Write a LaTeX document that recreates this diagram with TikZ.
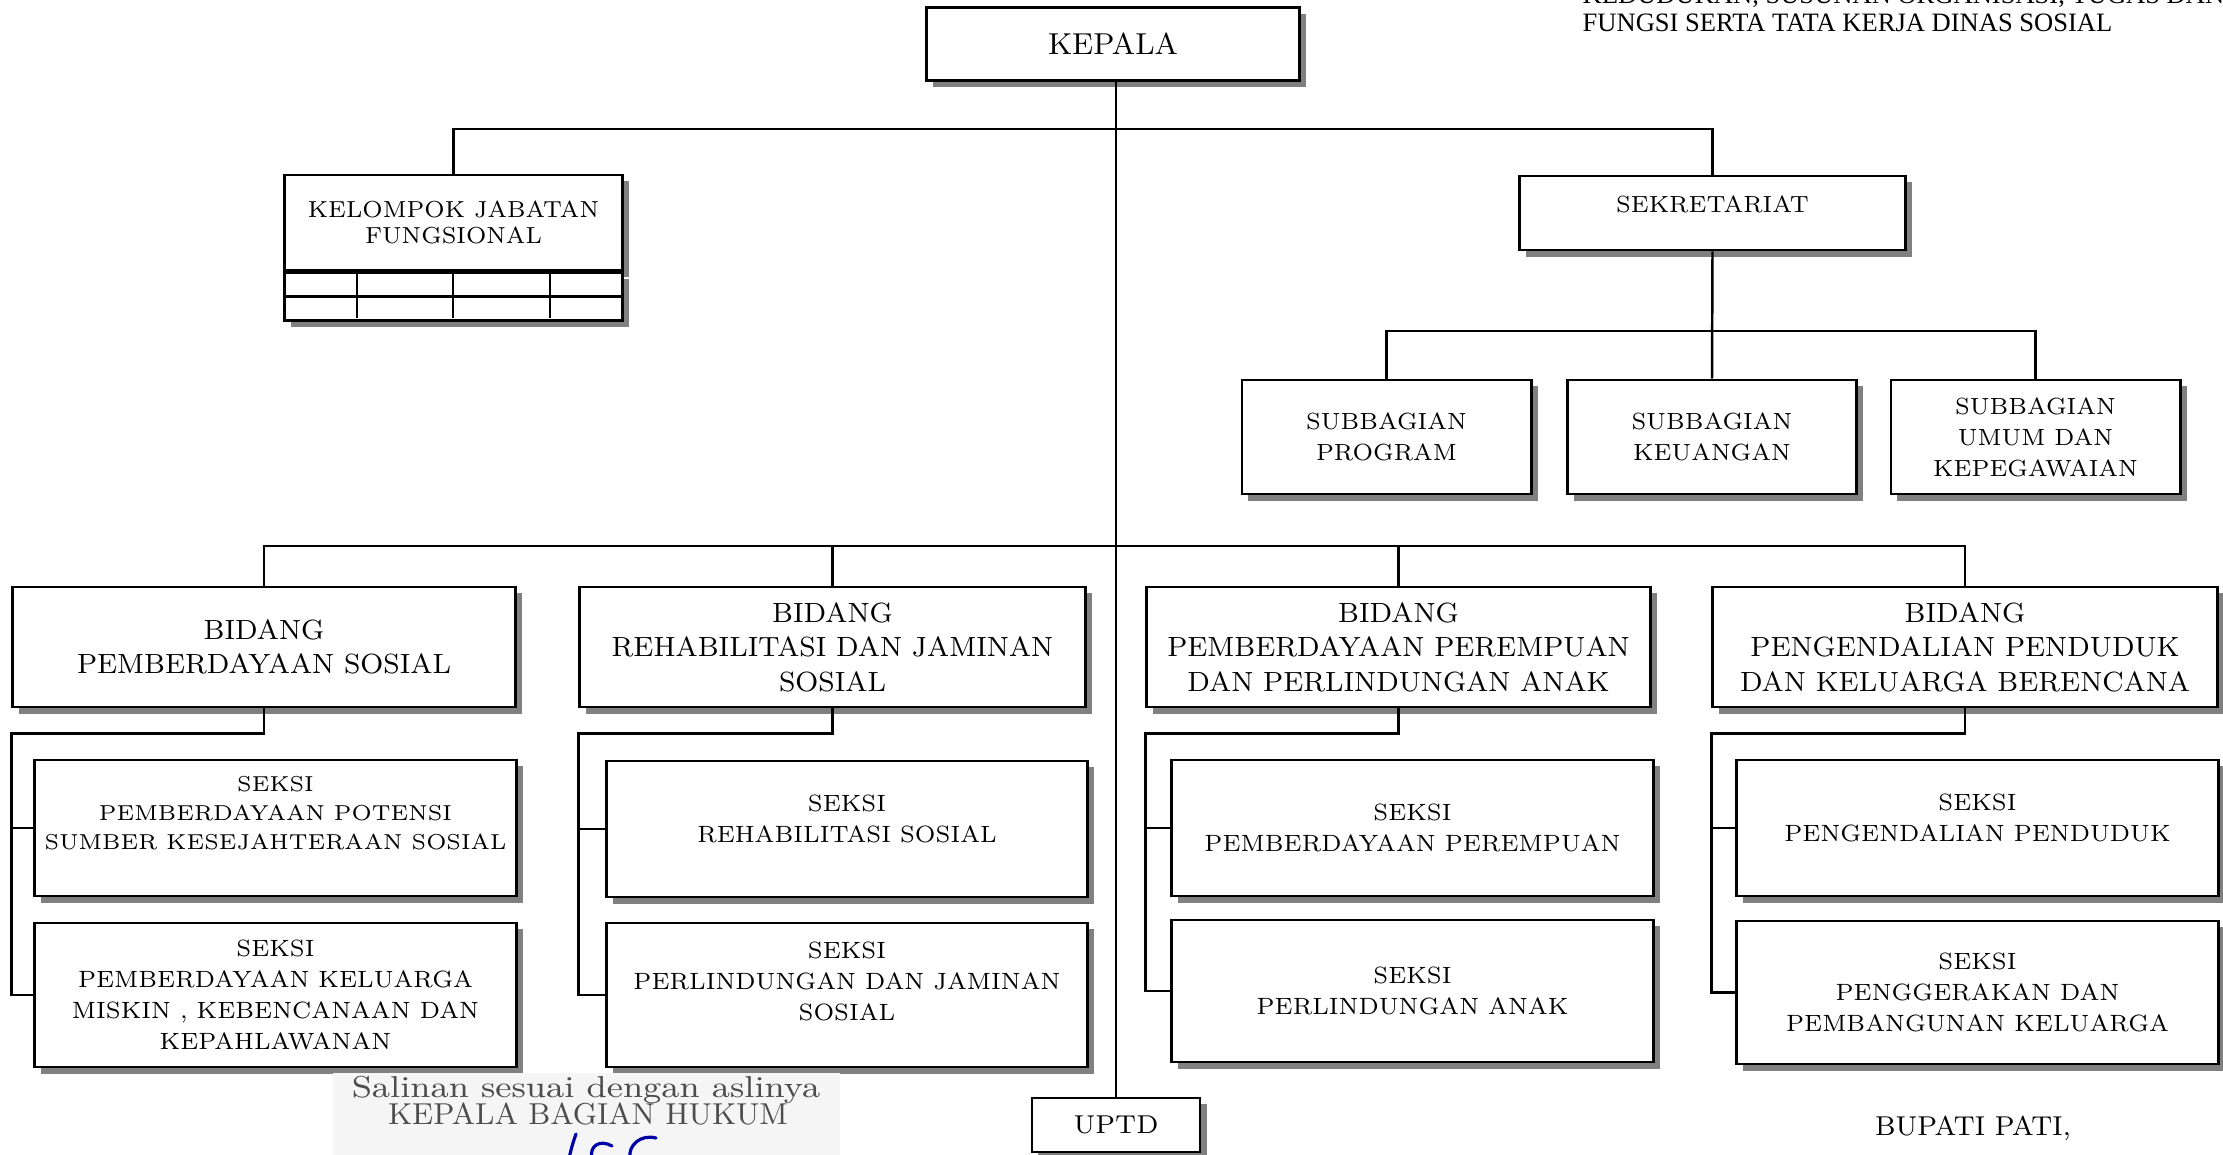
\documentclass[tikz,border=0pt]{standalone}
\usepackage{fontspec}
\usepackage{graphicx}
\newfontfamily\hdrfont{Liberation Serif}
\usetikzlibrary{positioning, shadows}

\tikzset{
  orgbox/.style={draw, rectangle, line width=0.8pt, fill=white, inner sep=0pt, align=center,
    drop shadow={shadow xshift=0.065cm, shadow yshift=-0.065cm, opacity=1, fill=black!50}},
  bidbox/.style={orgbox, minimum height=1.2cm, font=\fontsize{7.9}{9.8}\selectfont},
  seksibox/.style={orgbox, font=\fontsize{6.7}{8.8}\selectfont},
  subbox/.style={orgbox, minimum width=2.89cm, minimum height=1.14cm, font=\fontsize{6.65}{8.8}\selectfont},
  lift/.style={text depth=#1},
  link/.style={line width=0.7pt},
  sign/.style={draw=blue!65!black, line width=0.9pt, line cap=round},
}

\begin{document}
\begin{tikzpicture}[x=0.01cm, y=-0.01cm]
 \useasboundingbox (0,0) rectangle (2223,1155);
 \clip (0,0) rectangle (2223,1155);
 \fill[white] (0,0) rectangle (2223,1155);

 % header text, top right
 \node[font=\hdrfont\fontsize{7.55}{9}\selectfont, anchor=base west, inner sep=0pt] (hdr1) at (1582,4) {KEDUDUKAN, SUSUNAN ORGANISASI, TUGAS DAN};
 \node[font=\hdrfont\fontsize{7.55}{9}\selectfont, anchor=base west, inner sep=0pt] (hdr2) at (1582,32) {FUNGSI SERTA TATA KERJA DINAS SOSIAL};

 % top
 \node[orgbox, minimum width=3.72cm, minimum height=0.73cm, font=\fontsize{8.6}{10}\selectfont] (kepala) at (1113,44) {KEPALA};
 \node[orgbox, minimum width=3.37cm, minimum height=0.95cm, font=\fontsize{6.6}{7.6}\selectfont] (kjf) at (453.5,222.5) {KELOMPOK JABATAN\\FUNGSIONAL};
 \node[orgbox, minimum width=3.37cm, minimum height=0.48cm, anchor=north] (kjfgrid) at (kjf.south) {};
 \draw[line width=0.8pt] (kjfgrid.west) -- (kjfgrid.east);
 \foreach \gx in {357,453,550}
   \draw[line width=0.8pt] (\gx,270) -- (\gx,318);
 \node[orgbox, minimum width=3.85cm, minimum height=0.74cm, font=\fontsize{6.65}{8.8}\selectfont, lift=0.18cm] (sekr) at (1712.5,213) {SEKRETARIAT};

 % subbagian
 \node[subbox] (sb1) at (1386.5,437) {SUBBAGIAN\\PROGRAM};
 \node[subbox] (sb2) at (1712,437) {SUBBAGIAN\\KEUANGAN};
 \node[subbox] (sb3) at (2035.5,437) {SUBBAGIAN\\UMUM DAN\\KEPEGAWAIAN};

 % bidang
 \node[bidbox, minimum width=5.02cm] (bd1) at (264,647) {BIDANG\\PEMBERDAYAAN SOSIAL};
 \node[bidbox, minimum width=5.05cm] (bd2) at (832.5,647) {BIDANG\\REHABILITASI DAN JAMINAN\\SOSIAL};
 \node[bidbox, minimum width=5.03cm] (bd3) at (1398.5,647) {BIDANG\\PEMBERDAYAAN PEREMPUAN\\DAN PERLINDUNGAN ANAK};
 \node[bidbox, minimum width=5.04cm] (bd4) at (1965,647) {BIDANG\\PENGENDALIAN PENDUDUK\\DAN KELUARGA BERENCANA};

 % seksi
 \node[seksibox, minimum width=4.81cm, minimum height=1.36cm, font=\fontsize{6.15}{8.3}\selectfont, lift=0.3cm] (s11) at (275.5,828) {SEKSI\\PEMBERDAYAAN POTENSI\\SUMBER KESEJAHTERAAN SOSIAL};
 \node[seksibox, minimum width=4.81cm, minimum height=1.44cm] (s12) at (275.5,995) {SEKSI\\PEMBERDAYAAN KELUARGA\\MISKIN , KEBENCANAAN DAN\\KEPAHLAWANAN};
 \node[seksibox, minimum width=4.80cm, minimum height=1.36cm, lift=0.2cm] (s21) at (847,829) {SEKSI\\REHABILITASI SOSIAL};
 \node[seksibox, minimum width=4.80cm, minimum height=1.44cm, lift=0.28cm] (s22) at (847,995) {SEKSI\\PERLINDUNGAN DAN JAMINAN\\SOSIAL};
 \node[seksibox, minimum width=4.81cm, minimum height=1.36cm] (s31) at (1412.5,828) {SEKSI\\PEMBERDAYAAN PEREMPUAN};
 \node[seksibox, minimum width=4.81cm, minimum height=1.42cm] (s32) at (1412.5,991) {SEKSI\\PERLINDUNGAN ANAK};
 \node[seksibox, minimum width=4.81cm, minimum height=1.36cm, lift=0.2cm] (s41) at (1977.5,828) {SEKSI\\PENGENDALIAN PENDUDUK};
 \node[seksibox, minimum width=4.81cm, minimum height=1.43cm] (s42) at (1977.5,992.5) {SEKSI\\PENGGERAKAN DAN\\PEMBANGUNAN KELUARGA};

 \node[orgbox, minimum width=1.68cm, minimum height=0.54cm, font=\fontsize{7.35}{9}\selectfont] (uptd) at (1116,1125) {UPTD};

 % lines
 \coordinate (busA) at (1116,129);
 \coordinate (busB) at (1116,546);
 \coordinate (busC) at (1712,331);
 \draw[link] (kepala.south -| uptd.north) -- (uptd.north);
 \draw[link] (kjf.north) |- (busA) -| (sekr.north);
 \draw[link] (sekr.south) -- (sb2.north);
 \draw[link] (sb1.north) |- (busC) -| (sb3.north);
 \draw[link] (bd1.north) |- (busB) -| (bd4.north);
 \draw[link] (bd2.north) -- (bd2.north |- busB);
 \draw[link] (bd3.north) -- (bd3.north |- busB);
 \foreach \i in {1,...,4} {
   \draw[link] (bd\i.south) -- ++(0,25) -| (bd\i.west |- s\i2.west) -- (s\i2.west);
   \draw[link] (bd\i.west |- s\i1.west) -- (s\i1.west);
 }

 % stamp
 \fill[black!4] (333,1073) rectangle (840,1155);
 \node[text=black!70, font=\fontsize{8.6}{9}\selectfont, anchor=base] (salinan) at (586,1097) {\scalebox{1.17}[1]{Salinan sesuai dengan aslinya}};
 \node[text=black!70, font=\fontsize{8.6}{9}\selectfont, anchor=base] (kabag) at (588,1124) {KEPALA BAGIAN HUKUM};
 \draw[sign] (576,1134) .. controls (573,1142) and (571,1150) .. (569,1158);
 \draw[sign] (612,1146) .. controls (600,1139) and (589,1146) .. (592,1158);
 \draw[sign] (656,1138) .. controls (641,1134) and (628,1145) .. (630,1158);

 \node[font=\fontsize{7.75}{9}\selectfont, anchor=base] (bupati) at (1973,1135) {BUPATI PATI,};
\end{tikzpicture}
\end{document}
